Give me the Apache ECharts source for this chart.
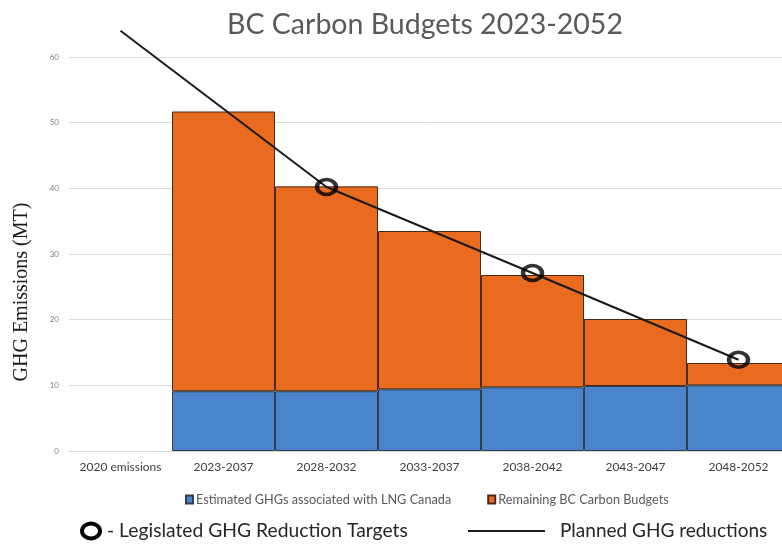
<!DOCTYPE html>
<html>
<head>
<meta charset="utf-8">
<script src="https://cdn.jsdelivr.net/npm/echarts@6/dist/echarts.min.js"></script>
<style>
html,body{margin:0;padding:0;background:#fff;overflow:hidden;width:782px;height:546px;}
#chart{width:790px;height:546px;}
</style>
</head>
<body>
<div id="chart"></div>
<script>
const categories = ['2020 emissions','2023-2037','2028-2032','2033-2037','2038-2042','2043-2047','2048-2052'];
const lngGHG = [null, 9.1, 9.1, 9.4, 9.7, 9.9, 10.0];
const remaining = [null, 42.6, 31.2, 24.1, 17.1, 10.2, 3.4];
const plannedLine = [64, null, 40.2, null, 27.1, null, 13.9];
const legislatedTargets = [null, null, 40.2, null, 27.1, null, 13.9];
const yTicks = { min: 0, max: 60, interval: 10 };

const chart = echarts.init(document.getElementById('chart'));
const option = {
  backgroundColor: '#fff',
  animation: false,
  title: {
    text: 'BC Carbon Budgets 2023-2052',
    left: 420, top: 5, textAlign: 'center',
    textStyle: { fontFamily: 'Lato', fontSize: 28.5, fontWeight: 'normal', color: '#595959' }
  },
  legend: {
    data: ['Estimated GHGs associated with LNG Canada', 'Remaining BC Carbon Budgets'],
    left: 180, top: 488,
    itemWidth: 7, itemHeight: 8, itemGap: 36,
    icon: 'rect',
    textStyle: { fontFamily: 'Lato', fontSize: 12.7, color: '#595959', padding: [0,0,0,-2] }
  },
  grid: { left: 69, right: 0, top: 57, bottom: 95, containLabel: false },
  xAxis: {
    type: 'category', data: categories,
    axisLine: { lineStyle: { color: '#d9d9d9' } },
    axisTick: { show: false },
    axisLabel: { fontFamily: 'Lato', fontSize: 12, color: '#404040', margin: 10, interval: 0 }
  },
  yAxis: {
    type: 'value', min: yTicks.min, max: yTicks.max, interval: yTicks.interval,
    axisLine: { show: false }, axisTick: { show: false },
    axisLabel: { fontFamily: 'Lato', fontSize: 8, color: '#7f7f7f', margin: 10 },
    splitLine: { lineStyle: { color: '#d9d9d9', width: 1 } }
  },
  series: [
    {
      name: 'Estimated GHGs associated with LNG Canada', type: 'bar', stack: 'b',
      data: lngGHG, barCategoryGap: '0%',
      itemStyle: { color: '#4a84cb', borderColor: '#2f3d4c', borderWidth: 1 }
    },
    {
      name: 'Remaining BC Carbon Budgets', type: 'bar', stack: 'b',
      data: remaining, barCategoryGap: '0%',
      itemStyle: { color: '#e86b1f', borderColor: '#4a2a14', borderWidth: 1 }
    },
    {
      name: 'Planned GHG reductions', type: 'line', data: plannedLine,
      connectNulls: true, showSymbol: false, symbol: 'none', clip: false,
      lineStyle: { color: '#1a1a1a', width: 2 }, z: 5
    },
    {
      name: 'Legislated GHG Reduction Targets', type: 'scatter', data: legislatedTargets,
      symbol: 'circle', symbolSize: [19, 15], z: 6,
      itemStyle: { color: 'rgba(0,0,0,0)', borderColor: '#000', borderWidth: 4 }
    }
  ],
  graphic: [
    {
      type: 'text', x: 22, y: 292, rotation: Math.PI / 2,
      style: { text: 'GHG Emissions (MT)', font: '20px "Liberation Serif"', fill: '#1a1a1a', align: 'center', verticalAlign: 'middle' }
    },
    {
      type: 'ellipse', shape: { cx: 91, cy: 531, rx: 9, ry: 7.5 },
      style: { fill: 'none', stroke: '#000', lineWidth: 4 }
    },
    {
      type: 'text', x: 107, y: 531,
      style: { text: '- Legislated GHG Reduction Targets', font: '19.3px Lato', fill: '#262626', align: 'left', verticalAlign: 'middle' }
    },
    {
      type: 'line', shape: { x1: 468, y1: 531, x2: 545, y2: 531 },
      style: { stroke: '#1a1a1a', lineWidth: 2 }
    },
    {
      type: 'text', x: 560, y: 531,
      style: { text: 'Planned GHG reductions', font: '19px Lato', fill: '#262626', align: 'left', verticalAlign: 'middle' }
    }
  ]
};
chart.setOption(option);
</script>
</body>
</html>
